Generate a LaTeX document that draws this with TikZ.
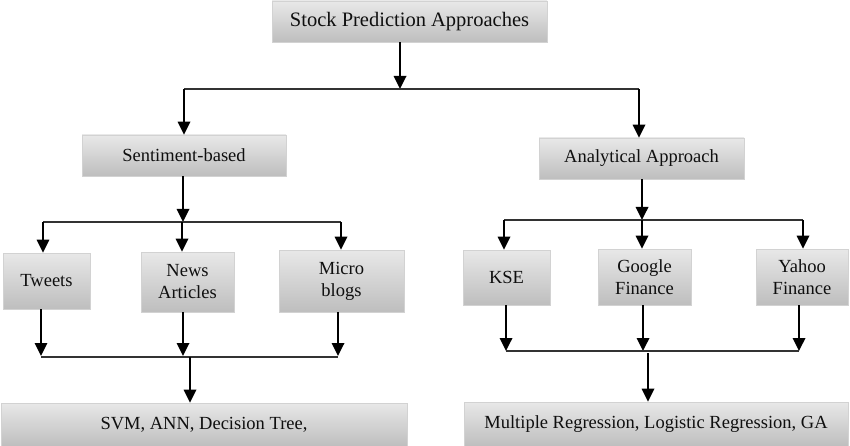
\documentclass[tikz,border=0pt]{standalone}
\usepackage{fontspec}
\setmainfont{Liberation Serif}
\usetikzlibrary{arrows.meta}
\definecolor{boxtop}{RGB}{232,232,232}
\definecolor{boxbot}{RGB}{190,190,190}
\definecolor{boxline}{RGB}{210,210,210}
\definecolor{txt}{RGB}{15,15,15}
\begin{document}
\begin{tikzpicture}[x=1pt,y=-1pt,
  box/.style={draw=boxline, line width=0.8pt, top color=boxtop, bottom color=boxbot,
    inner sep=0pt, align=center, text=txt,
    font=\fontsize{18.5}{22}\selectfont},
  topbox/.style={box, font=\fontsize{20.5}{24}\selectfont},
  arr/.style={line width=1.8pt, -{Triangle[width=12.5pt,length=13pt]}},
  bar/.style={line width=1.3pt, draw={rgb,255:red,50;green,50;blue,50}}]
\useasboundingbox (0,0) rectangle (850,446);
% boxes
\node[topbox, minimum width=275, minimum height=41] (top) at (409.5,21.5) {Stock Prediction Approaches};
\node[box, minimum width=204, minimum height=41] (sent) at (184,155.5) {Sentiment-based};
\node[box, minimum width=205, minimum height=41] (anal) at (641.5,158.5) {Analytical Approach};
\node[box, minimum width=87, minimum height=56] (tweets) at (46.5,281) {Tweets};
\node[box, minimum width=93, minimum height=60] (news) at (187.5,282) {News\\Articles};
\node[box, minimum width=125, minimum height=62] (micro) at (341.5,281) {Micro\\blogs};
\node[box, minimum width=406, minimum height=43] (svm) at (204,424.5) {SVM, ANN, Decision Tree,};
\node[box, minimum width=87, minimum height=55] (kse) at (506.5,277.5) {KSE};
\node[box, minimum width=93, minimum height=56] (google) at (644.5,277) {Google\\Finance};
\node[box, minimum width=92, minimum height=56] (yahoo) at (802,277) {Yahoo\\Finance};
\node[box, minimum width=384, minimum height=44] (mr) at (656,424) {Multiple Regression, Logistic Regression, GA};
% junction coordinates
\coordinate (j1) at (400,89);
\coordinate (jL) at (184,89);
\coordinate (jR) at (639,89);
\coordinate (s1) at (183,222);
\coordinate (s1L) at (43,222);
\coordinate (s1M) at (182,222);
\coordinate (s1R) at (341,222);
\coordinate (s2L) at (41,356);
\coordinate (s2M) at (183,356);
\coordinate (s2R) at (338,356);
\coordinate (s2C) at (190,357);
\coordinate (a1) at (642,220);
\coordinate (a1L) at (504,220);
\coordinate (a1R) at (803,220);
\coordinate (a2L) at (506,351);
\coordinate (a2M) at (643,351);
\coordinate (a2R) at (799,351);
\coordinate (a2C) at (648,353);
% top level
\draw[arr] (top.south -| j1) -- (j1);
\draw[bar] (jL) -- (jR);
\draw[arr] (jL) -- (jL |- sent.north);
\draw[arr] (jR) -- (jR |- anal.north);
% sentiment branch
\draw[arr] (sent.south -| s1) -- (s1);
\draw[bar] (s1L) -- (s1R);
\draw[arr] (s1L) -- (s1L |- tweets.north);
\draw[arr] (s1M) -- (s1M |- news.north);
\draw[arr] (s1R) -- (s1R |- micro.north);
\draw[arr] (tweets.south -| s2L) -- (s2L);
\draw[arr] (news.south -| s2M) -- (s2M);
\draw[arr] (micro.south -| s2R) -- (s2R);
\draw[bar] (s2L |- s2C) -- (s2R |- s2C);
\draw[arr] (s2C) -- (s2C |- svm.north);
% analytical branch
\draw[arr] (anal.south -| a1) -- (a1);
\draw[bar] (a1L) -- (a1R);
\draw[arr] (a1L) -- (a1L |- kse.north);
\draw[arr] (a1) -- (a1 |- google.north);
\draw[arr] (a1R) -- (a1R |- yahoo.north);
\draw[arr] (kse.south -| a2L) -- (a2L);
\draw[arr] (google.south -| a2M) -- (a2M);
\draw[arr] (yahoo.south -| a2R) -- (a2R);
\draw[bar] (a2L) -- (a2R);
\draw[arr] (a2C) -- (a2C |- mr.north);
\end{tikzpicture}
\end{document}
